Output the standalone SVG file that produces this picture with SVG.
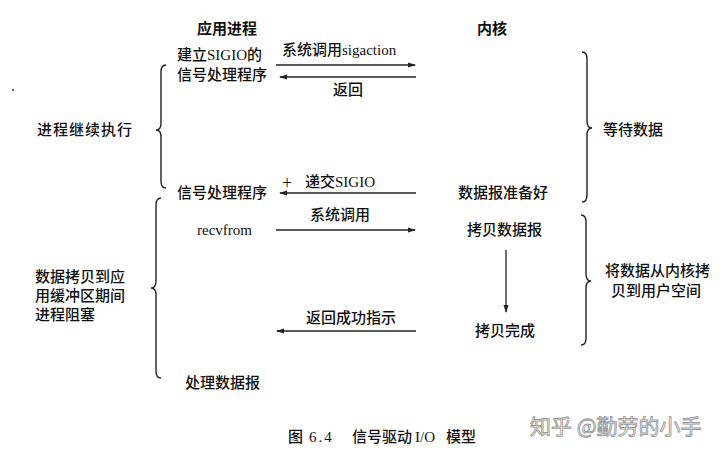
<svg xmlns="http://www.w3.org/2000/svg" width="720" height="456" viewBox="0 0 720 456">
<style>
.t{font-family:"Liberation Serif","Noto Sans CJK SC",serif;font-size:15px;fill:#111;font-weight:500}
.h{font-family:"Noto Sans CJK SC",sans-serif;font-size:15px;fill:#111;font-weight:bold}
.s{font-family:"Noto Sans CJK SC",sans-serif;font-size:15px;fill:#111;font-weight:500}
.ln{stroke:#222;stroke-width:1.3;fill:none}
.br{stroke:#222;stroke-width:1.4;fill:none}
.wm{font-family:"Noto Sans CJK SC",sans-serif;font-size:21px;fill:#fff;stroke:#9a9a9a;stroke-width:0.9}
</style>
<defs>
<marker id="ah" markerWidth="8" markerHeight="6" refX="7" refY="3" orient="auto" markerUnits="userSpaceOnUse">
<path d="M0,0.5 L8,3 L0,5.5 Z" fill="#222"/>
</marker>
</defs>
<rect width="720" height="456" fill="#fff"/>
<circle cx="13" cy="90" r="1" fill="#333"/>

<g id="headers">
<text class="h" x="227" y="34" text-anchor="middle">应用进程</text>
<text class="h" x="492" y="34" text-anchor="middle">内核</text>
</g>

<g id="app-setup">
<text class="t" x="177" y="60">建立SIGIO的</text>
<text class="t" x="177" y="80">信号处理程序</text>
</g>
<g id="app-handler">
<text class="t" x="177" y="198">信号处理程序</text>
</g>
<g id="app-recvfrom">
<text class="t" x="197" y="235">recvfrom</text>
</g>
<g id="app-process">
<text class="t" x="185" y="388">处理数据报</text>
</g>

<g id="k-ready">
<text class="t" x="458" y="198">数据报准备好</text>
</g>
<g id="k-copy">
<text class="t" x="467" y="235">拷贝数据报</text>
</g>
<g id="k-done">
<text class="t" x="475" y="336">拷贝完成</text>
</g>

<g id="side-left1">
<path class="br" d="M166,65 Q161,65 161,72 L161,123 Q161,130 156,130 Q161,130 161,137 L161,181 Q161,188 166,188"/>
<text class="s" x="37" y="135" textLength="95">进程继续执行</text>
</g>
<g id="side-left2">
<path class="br" d="M161,198 Q156,198 156,205 L156,281 Q156,288 151,288 Q156,288 156,295 L156,371 Q156,378 161,378"/>
<text class="s" x="35" y="282">数据拷贝到应</text>
<text class="s" x="35" y="301">用缓冲区期间</text>
<text class="s" x="35" y="320">进程阻塞</text>
</g>
<g id="side-right1">
<path class="br" d="M582,52 Q587,52 587,59 L587,121 Q587,128 592,128 Q587,128 587,135 L587,195 Q587,202 582,202"/>
<text class="s" x="603" y="135">等待数据</text>
</g>
<g id="side-right2">
<path class="br" d="M581,215 Q586,215 586,222 L586,274 Q586,281 591,281 Q586,281 586,288 L586,338 Q586,345 581,345"/>
<text class="s" x="605" y="276">将数据从内核拷</text>
<text class="s" x="611" y="296">贝到用户空间</text>
</g>

<g id="connectors">
<line class="ln" x1="276" y1="65" x2="415" y2="65" marker-end="url(#ah)"/>
<text class="t" x="282" y="55">系统调用sigaction</text>
<line class="ln" x1="416" y1="77" x2="280" y2="77" marker-end="url(#ah)"/>
<text class="t" x="348" y="95" text-anchor="middle">返回</text>
<line class="ln" x1="416" y1="193" x2="280" y2="193" marker-end="url(#ah)"/>
<text class="t" x="282" y="189" style="font-size:18px;font-weight:normal">+</text>
<text class="t" x="305" y="187">递交SIGIO</text>
<line class="ln" x1="276" y1="230" x2="415" y2="230" marker-end="url(#ah)"/>
<text class="t" x="340" y="220" text-anchor="middle">系统调用</text>
<line class="ln" x1="506" y1="250" x2="506" y2="312" marker-end="url(#ah)"/>
<line class="ln" x1="416" y1="331" x2="277" y2="331" marker-end="url(#ah)"/>
<text class="t" x="351" y="323" text-anchor="middle">返回成功指示</text>
</g>

<g id="caption">
<text class="t" x="288" y="442" style="font-size:15px">图<tspan x="309" letter-spacing="2">6.4</tspan><tspan x="352">信号驱动</tspan><tspan x="415">I/O</tspan><tspan x="446">模型</tspan></text>
</g>
<text class="wm" x="530" y="434">知乎 @勤劳的小手</text>
</svg>
